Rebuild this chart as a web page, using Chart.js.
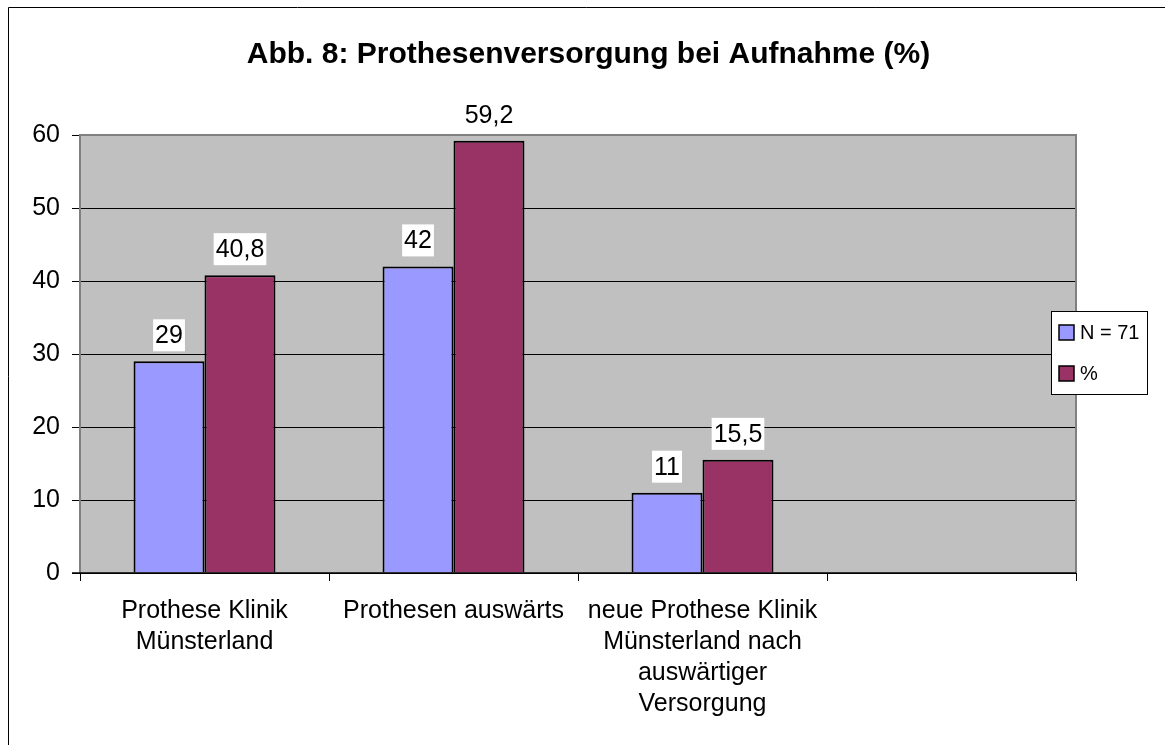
<!DOCTYPE html>
<html lang="de">
<head>
<meta charset="utf-8">
<title>Abb. 8: Prothesenversorgung bei Aufnahme (%)</title>
<script src="https://cdn.jsdelivr.net/npm/chart.js@4.4.1/dist/chart.umd.min.js"></script>
<style>
  html, body { margin: 0; padding: 0; background: #fff; }
  #wrap { width: 1165px; height: 745px; position: relative; }
</style>
</head>
<body>
<div id="wrap"><canvas id="grafico"></canvas></div>
<script>
// Dados do gráfico
const kategorien = [
    ['Prothese Klinik', 'Münsterland'],
    'Prothesen auswärts',
    ['neue Prothese Klinik', 'Münsterland nach', 'auswärtiger', 'Versorgung'],
    ''
];
const werteN = [29, 42, 11, null];
const wertePct = [40.8, 59.2, 15.5, null];
const yTicks = [0, 10, 20, 30, 40, 50, 60];

const FONT = "'Liberation Sans', Arial, sans-serif";

// fundo cinza da área do gráfico + moldura
const plotBackground = {
    id: 'plotBackground',
    beforeDraw(chart) {
        const { ctx, chartArea: a } = chart;
        ctx.save();
        ctx.fillStyle = '#C0C0C0';
        ctx.fillRect(a.left, a.top, a.right - a.left, a.bottom - a.top);
        ctx.restore();
    },
    afterDatasetsDraw(chart) {
        const { ctx, chartArea: a } = chart;
        ctx.save();
        ctx.strokeStyle = '#808080';
        ctx.lineWidth = 2;
        ctx.beginPath();
        ctx.moveTo(a.left, a.bottom);
        ctx.lineTo(a.left, a.top);
        ctx.lineTo(a.right, a.top);
        ctx.lineTo(a.right, a.bottom);
        ctx.stroke();
        // eixo x preto
        ctx.strokeStyle = '#000';
        ctx.lineWidth = 1.5;
        ctx.beginPath();
        ctx.moveTo(a.left - 8, a.bottom);
        ctx.lineTo(a.right, a.bottom);
        ctx.stroke();
        // moldura externa (só esquerda e topo visíveis)
        ctx.lineWidth = 1;
        ctx.beginPath();
        ctx.moveTo(8.5, chart.height);
        ctx.lineTo(8.5, 7.5);
        ctx.lineTo(chart.width, 7.5);
        ctx.stroke();
        ctx.restore();
    }
};

// rótulos de valor com fundo branco
const valueLabels = {
    id: 'valueLabels',
    afterDatasetsDraw(chart) {
        const { ctx } = chart;
        ctx.save();
        ctx.font = '25px ' + FONT;
        ctx.textAlign = 'center';
        ctx.textBaseline = 'middle';
        chart.data.datasets.forEach((ds, i) => {
            const meta = chart.getDatasetMeta(i);
            meta.data.forEach((bar, j) => {
                const v = ds.data[j];
                if (v === null || v === undefined) return;
                const txt = String(v).replace('.', ',');
                const w = ctx.measureText(txt).width + 4;
                const cy = bar.y - 26;
                ctx.fillStyle = '#fff';
                ctx.fillRect(bar.x - w / 2, cy - 16, w, 32);
                ctx.fillStyle = '#000';
                ctx.fillText(txt, bar.x, cy + 1);
            });
        });
        ctx.restore();
    }
};

// legenda própria (sobrepõe a borda direita do gráfico)
const customLegend = {
    id: 'customLegend',
    afterDraw(chart) {
        const { ctx } = chart;
        const x = 1051.5, y = 311.5, w = 96, h = 83;
        ctx.save();
        ctx.fillStyle = '#fff';
        ctx.fillRect(x, y, w, h);
        ctx.strokeStyle = '#000';
        ctx.lineWidth = 1;
        ctx.strokeRect(x, y, w, h);
        ctx.font = '20px ' + FONT;
        ctx.textBaseline = 'middle';
        chart.data.datasets.forEach((ds, i) => {
            const cy = 332 + i * 41;
            ctx.fillStyle = ds.backgroundColor;
            ctx.fillRect(1059, cy - 7, 15, 15);
            ctx.lineWidth = 1.5;
            ctx.strokeRect(1059, cy - 7, 15, 15);
            ctx.fillStyle = '#000';
            ctx.fillText(ds.label, 1080, cy + 1);
        });
        ctx.restore();
    }
};

new Chart(document.getElementById('grafico'), {
    type: 'bar',
    data: {
        labels: kategorien,
        datasets: [
            {
                label: 'N = 71',
                data: werteN,
                backgroundColor: '#9999FF',
                borderColor: '#000',
                borderWidth: 2,
                categoryPercentage: 0.57,
                barPercentage: 1.0
            },
            {
                label: '%',
                data: wertePct,
                backgroundColor: '#993366',
                borderColor: '#000',
                borderWidth: 2,
                categoryPercentage: 0.57,
                barPercentage: 1.0
            }
        ]
    },
    options: {
        responsive: true,
        maintainAspectRatio: false,
        animation: false,
        layout: { padding: { left: 12, right: 0, top: 0, bottom: 0 } },
        plugins: {
            legend: { display: false },
            tooltip: { enabled: false },
            title: {
                display: true,
                text: 'Abb. 8: Prothesenversorgung bei Aufnahme (%)',
                color: '#000',
                font: { family: FONT, size: 30, weight: 'bold' },
                padding: { top: 37, bottom: 62 }
            }
        },
        scales: {
            x: {
                offset: true,
                grid: {
                    offset: true,
                    drawOnChartArea: false,
                    drawTicks: true,
                    tickLength: 8,
                    color: '#000'
                },
                border: { display: false },
                ticks: {
                    color: '#000',
                    maxRotation: 0,
                    autoSkip: false,
                    padding: 14,
                    font: { family: FONT, size: 25, lineHeight: 1.25 }
                },
                afterFit(scale) { scale.height = 172; }
            },
            y: {
                min: 0,
                max: 60,
                afterBuildTicks(scale) { scale.ticks = yTicks.map(v => ({ value: v })); },
                grid: {
                    color: '#000',
                    lineWidth: 1,
                    tickLength: 8
                },
                border: { display: false },
                ticks: {
                    color: '#000',
                    padding: 12,
                    font: { family: FONT, size: 25 }
                },
                afterFit(scale) { scale.width = 68; }
            },
            // espaço vazio à direita (legenda fica aqui)
            rechts: {
                position: 'right',
                display: true,
                grid: { display: false },
                border: { display: false },
                ticks: { display: false },
                afterFit(scale) { scale.width = 89; }
            }
        }
    },
    plugins: [plotBackground, valueLabels, customLegend]
});
</script>
</body>
</html>
